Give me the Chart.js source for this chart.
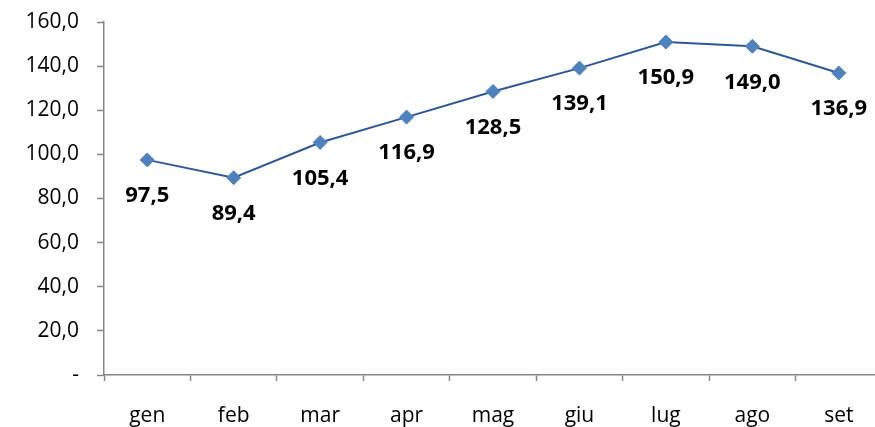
<!DOCTYPE html>
<html>
<head>
    <style>
        body {
            margin: 0;
            padding: 0;
            overflow: hidden;
            background: #ffffff;
        }

        .wrap {
            width: 890px;
            height: 427px;
        }
    </style>
    <title>Andamento mensile</title>
    <script src="https://cdn.jsdelivr.net/npm/chart.js@4.4.1/dist/chart.umd.min.js"></script>
</head>
<body>
    <div class="wrap">
        <canvas id="chart" width="890" height="427"></canvas>
    </div>

  <script>
    const months = ['gen', 'feb', 'mar', 'apr', 'mag', 'giu', 'lug', 'ago', 'set'];
    const values = [97.5, 89.4, 105.4, 116.9, 128.5, 139.1, 150.9, 149.0, 136.9];
    const yTicks = [0, 20, 40, 60, 80, 100, 120, 140, 160];

    const axisGray = '#868686';

    // comma as decimal separator, "-" for zero
    function fmt(v) {
      if (v === 0) return '-';
      return v.toFixed(1).replace('.', ',');
    }

    // value labels under each point
    const pointLabels = {
      id: 'pointLabels',
      afterDatasetsDraw(chart) {
        const ctx = chart.ctx;
        const meta = chart.getDatasetMeta(0);
        ctx.save();
        ctx.font = 'bold 22px "Open Sans"';
        ctx.fillStyle = '#000000';
        ctx.textAlign = 'center';
        ctx.textBaseline = 'middle';
        meta.data.forEach(function(pt, i) {
          ctx.fillText(fmt(values[i]), pt.x, pt.y + 36);
        });
        ctx.restore();
      }
    };

    const ctx = document.getElementById('chart').getContext('2d');
    new Chart(ctx, {
      type: 'line',
      data: {
        labels: months,
        datasets: [{
          data: values,
          borderColor: '#2C5794',
          borderWidth: 2,
          pointStyle: 'rectRot',
          pointRadius: 7,
          pointBackgroundColor: '#4F81BD',
          pointBorderColor: '#4F81BD',
          pointBorderWidth: 1,
          tension: 0
        }]
      },
      options: {
        responsive: false,
        animation: false,
        layout: {
          padding: { top: 0, right: 8, left: 0, bottom: 0 }
        },
        plugins: {
          legend: { display: false },
          tooltip: { enabled: false }
        },
        scales: {
          x: {
            offset: true,
            grid: {
              offset: true,
              drawOnChartArea: false,
              tickLength: 6,
              tickColor: axisGray,
              tickWidth: 1.5
            },
            border: { color: axisGray, width: 1.5 },
            ticks: {
              color: '#000000',
              font: { family: 'Open Sans', size: 21 },
              padding: 22,
              maxRotation: 0
            },
            afterFit: function(scale) { scale.height = 52; }
          },
          y: {
            min: 0,
            max: 160,
            afterBuildTicks: function(scale) {
              scale.ticks = yTicks.map(v => ({ value: v }));
            },
            grid: {
              drawOnChartArea: false,
              tickLength: 7,
              tickColor: axisGray,
              tickWidth: 1.5
            },
            border: { color: axisGray, width: 1.5 },
            ticks: {
              color: '#000000',
              font: { family: 'Open Sans', size: 21 },
              padding: 18,
              callback: function(v) { return fmt(v); }
            },
            afterFit: function(scale) {
              scale.width = 104;
              scale.paddingTop = 22;
              scale.paddingBottom = 0;
            }
          }
        }
      },
      plugins: [pointLabels]
    });
  </script>
</body>
</html>
